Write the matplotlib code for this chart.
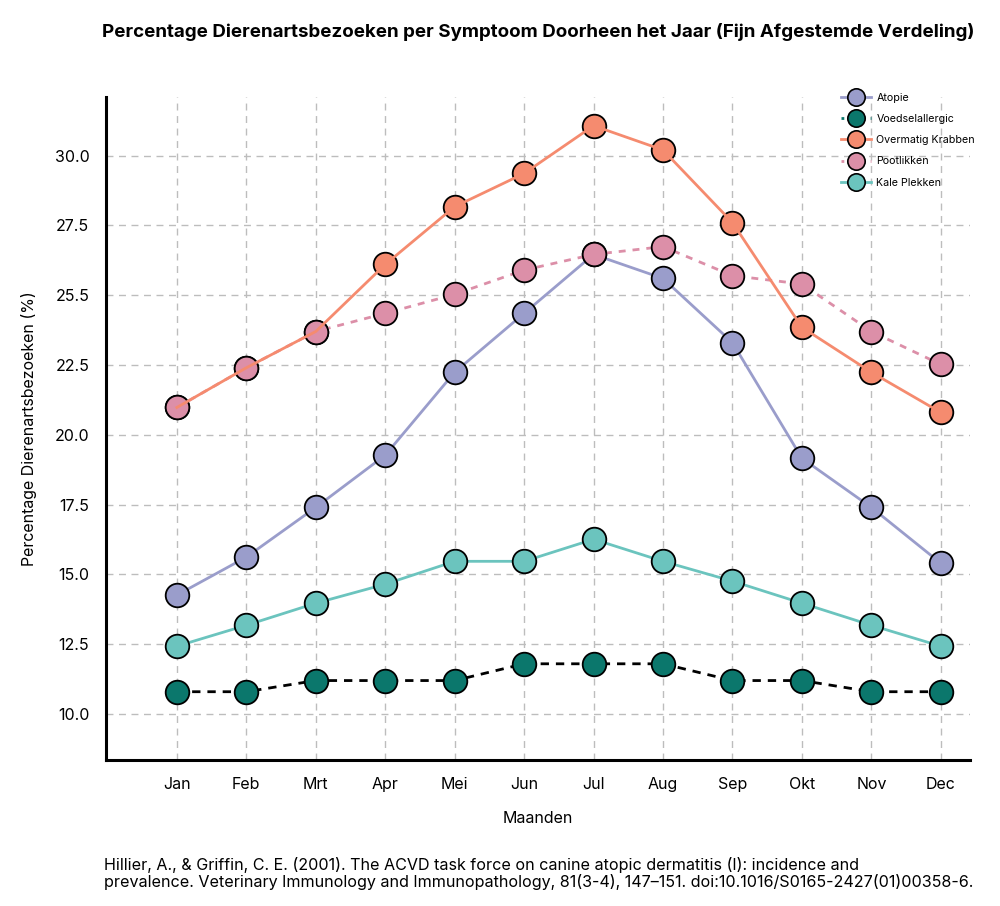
import numpy as np
import matplotlib.pyplot as plt
from matplotlib.lines import Line2D

plt.rcParams['font.family'] = ['Inter', 'DejaVu Sans']

months = ["Jan", "Feb", "Mrt", "Apr", "Mei", "Jun", "Jul", "Aug", "Sep", "Okt", "Nov", "Dec"]
atopie = [14.26, 15.62, 17.4, 19.27, 22.24, 24.35, 26.46, 25.6, 23.3, 19.16, 17.4, 15.4]
voedsel = [10.8, 10.8, 11.2, 11.2, 11.2, 11.8, 11.8, 11.8, 11.2, 11.2, 10.8, 10.8]
krabben = [20.98, 22.4, 23.7, 26.1, 28.17, 29.36, 31.07, 30.2, 27.6, 23.85, 22.24, 20.8]
pootlikken = [20.98, 22.4, 23.7, 24.35, 25.03, 25.9, 26.46, 26.74, 25.7, 25.4, 23.7, 22.52]
kale = [12.43, 13.18, 13.97, 14.65, 15.47, 15.47, 16.26, 15.47, 14.76, 13.97, 13.18, 12.43]
ytick_vals = [10.0, 12.5, 15.0, 17.5, 20.0, 22.5, 25.0, 27.5, 30.0]
ytick_labels = ["10.0", "12.5", "15.0", "17.5", "20.0", "22.5", "25.5", "27.5", "30.0"]

c_atopie = "#9a9dcb"
c_voedsel = "#0b776c"
c_krabben = "#f58b6f"
c_poot = "#dc8fa8"
c_kale = "#6bc4be"

x = np.arange(len(months))
fig = plt.figure(figsize=(10, 9.06), dpi=100)
ax = fig.add_axes([0.106, 0.161, 0.864, 0.732])

ms = 17
mk = dict(marker="o", ls="none", markersize=ms, markeredgecolor="black", markeredgewidth=1.3)

# lines and markers (layering)
ax.plot(x, atopie, color=c_atopie, lw=2, zorder=2)
ax.plot(x, atopie, color=c_atopie, zorder=2.1, **mk)
ax.plot(x, voedsel, color="black", lw=2, ls=(0, (3, 2.5)), zorder=2)
ax.plot(x, voedsel, color=c_voedsel, zorder=2.1, **mk)
ax.plot(x, krabben, color=c_krabben, zorder=2.1, **mk)
ax.plot(x, pootlikken, color=c_poot, lw=2, ls=(0, (2.5, 2.5)), zorder=2.2)
ax.plot(x, pootlikken, color=c_poot, zorder=2.5, **mk)
ax.plot(x, krabben, color=c_krabben, lw=2, zorder=2.6)
ax.plot(x, kale, color=c_kale, lw=2, zorder=2)
ax.plot(x, kale, color=c_kale, zorder=2.1, **mk)

ax.set_xlim(-1.02, 11.42)
ax.set_ylim(8.35, 32.1)
ax.set_xticks(x)
ax.set_xticklabels(months)
ax.set_yticks(ytick_vals)
ax.set_yticklabels(ytick_labels)
ax.tick_params(length=0, labelsize=11.5)
ax.tick_params(axis="x", pad=12)
ax.tick_params(axis="y", pad=12)
ax.grid(True, color="#bdbdbd", ls=(0, (5, 4)), lw=1)
ax.set_axisbelow(True)
for s in ["top", "right"]:
    ax.spines[s].set_visible(False)
for s in ["left", "bottom"]:
    ax.spines[s].set_linewidth(2.2)

ax.set_title("Percentage Dierenartsbezoeken per Symptoom Doorheen het Jaar (Fijn Afgestemde Verdeling)",
             fontsize=13.5, fontweight="bold", pad=43)
ax.set_xlabel("Maanden", fontsize=11.5, labelpad=14)
ax.set_ylabel("Percentage Dierenartsbezoeken (%)", fontsize=11.5, labelpad=13)

lk = dict(marker="o", markersize=12.5, markeredgecolor="black", markeredgewidth=1.2, lw=2)
handles = [
    Line2D([], [], color=c_atopie, markerfacecolor=c_atopie, **lk),
    Line2D([], [], color=c_voedsel, markerfacecolor=c_voedsel, ls=(0, (1, 2.5)), **lk),
    Line2D([], [], color=c_krabben, markerfacecolor=c_krabben, **lk),
    Line2D([], [], color=c_poot, markerfacecolor=c_poot, ls=(0, (1, 2.5)), **lk),
    Line2D([], [], color=c_kale, markerfacecolor=c_kale, **lk),
]
labels = ["Atopie", "Voedselallergic", "Overmatig Krabben", "Pootlikken", "Kale Plekken"]
ax.legend(handles, labels, loc="upper right", bbox_to_anchor=(1.017, 1.021), frameon=False,
          fontsize=7.7, handlelength=2.8, labelspacing=1.05, handletextpad=0.5)

fig.text(0.104, 1 - 857 / 906,
         "Hillier, A., & Griffin, C. E. (2001). The ACVD task force on canine atopic dermatitis (I): incidence and\n"
         "prevalence. Veterinary Immunology and Immunopathology, 81(3-4), 147\u2013151. doi:10.1016/S0165-2427(01)00358-6.",
         fontsize=11.6, linespacing=1.05, va="top")

fig.savefig("out.png", dpi=100)
